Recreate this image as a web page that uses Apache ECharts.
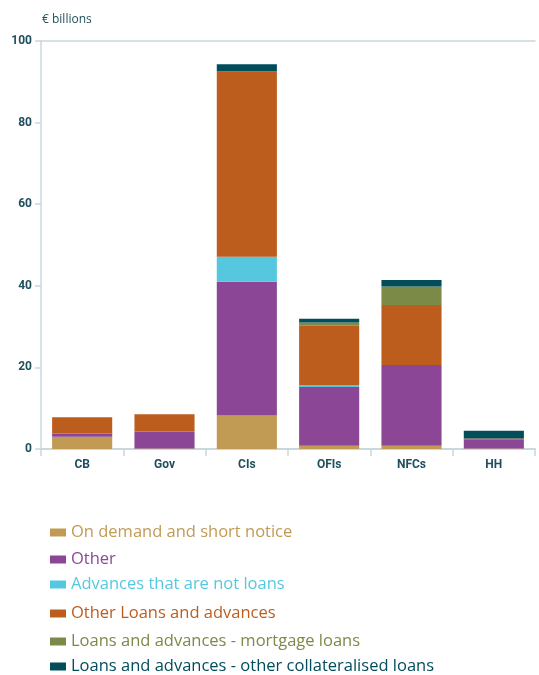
<!DOCTYPE html>
<html>
<head>
<meta charset="utf-8">
<script src="https://cdn.jsdelivr.net/npm/echarts@6/dist/echarts.min.js"></script>
<style>
  html, body { margin: 0; padding: 0; background: #fff; }
  #chart { width: 539px; height: 675px; }
</style>
</head>
<body>
<div id="chart"></div>
<script>
// Sectors on the horizontal axis
const categories = ['CB', 'Gov', 'CIs', 'OFIs', 'NFCs', 'HH'];

// Stacked components, € billions
const onDemand      = [3.0, 0.1, 8.2, 0.8, 0.8, 0.1];
const other         = [0.8, 4.2, 32.8, 14.4, 19.8, 2.3];
const advancesNot   = [0.0, 0.0, 6.1, 0.5, 0.0, 0.0];
const otherLoans    = [4.0, 4.2, 45.5, 14.5, 14.7, 0.2];
const mortgageLoans = [0.0, 0.0, 0.0, 0.8, 4.5, 0.0];
const collateral    = [0.0, 0.0, 1.7, 0.9, 1.6, 1.9];

const yTicks = [0, 20, 40, 60, 80, 100];

const seriesDefs = [
  { name: 'On demand and short notice', data: onDemand, color: '#C19A53' },
  { name: 'Other', data: other, color: '#8B4796' },
  { name: 'Advances that are not loans', data: advancesNot, color: '#55C8E0' },
  { name: 'Other Loans and advances', data: otherLoans, color: '#BC5D1E' },
  { name: 'Loans and advances - mortgage loans', data: mortgageLoans, color: '#7C8A48' },
  { name: 'Loans and advances - other collateralised loans', data: collateral, color: '#014D5A' }
];

// Vertical placement of each legend row (slightly uneven spacing)
const legendTops = [519, 546, 571, 600, 628, 653];

const axisColor = '#C9D8DD';
const labelColor = '#1F4F5C';

const chart = echarts.init(document.getElementById('chart'), null, { renderer: 'canvas' });

chart.setOption({
  animation: false,
  textStyle: { fontFamily: 'Open Sans' },
  title: {
    text: '€ billions',
    left: 37, top: 9,
    textStyle: { fontSize: 12, fontWeight: 'normal', color: labelColor, fontFamily: 'Open Sans' }
  },
  grid: { left: 41, right: 4, top: 41, bottom: 226, containLabel: false },
  legend: seriesDefs.map((s, i) => ({
    orient: 'vertical',
    left: 45, top: legendTops[i],
    itemWidth: 16, itemHeight: 8,
    itemGap: 8,
    icon: 'rect',
    selectedMode: false,
    data: [{ name: s.name }],
    textStyle: { color: s.color, fontSize: 16.5, fontFamily: 'Open Sans' }
  })),
  xAxis: [{
    type: 'category',
    data: categories,
    axisLine: { lineStyle: { color: axisColor, width: 2 } },
    axisTick: { show: true, length: 7, lineStyle: { color: axisColor, width: 1.5 } },
    axisLabel: { color: labelColor, fontWeight: 'bold', fontSize: 12, margin: 10, fontFamily: 'Roboto' }
  }, {
    type: 'category',
    position: 'top',
    data: categories,
    axisLine: { show: true, lineStyle: { color: axisColor, width: 1.5 } },
    axisTick: { show: false },
    axisLabel: { show: false }
  }],
  yAxis: {
    type: 'value',
    min: yTicks[0], max: yTicks[yTicks.length - 1], interval: 20,
    axisLine: { show: true, lineStyle: { color: axisColor, width: 1.5 } },
    axisTick: { show: true, length: 6, lineStyle: { color: axisColor, width: 1.5 } },
    splitLine: { show: false },
    axisLabel: { color: labelColor, fontWeight: 'bold', fontSize: 12, margin: 9, fontFamily: 'Roboto' }
  },
  series: seriesDefs.map(s => ({
    name: s.name,
    type: 'bar',
    stack: 'total',
    barWidth: '73%',
    data: s.data,
    itemStyle: { color: s.color }
  }))
});
</script>
</body>
</html>
